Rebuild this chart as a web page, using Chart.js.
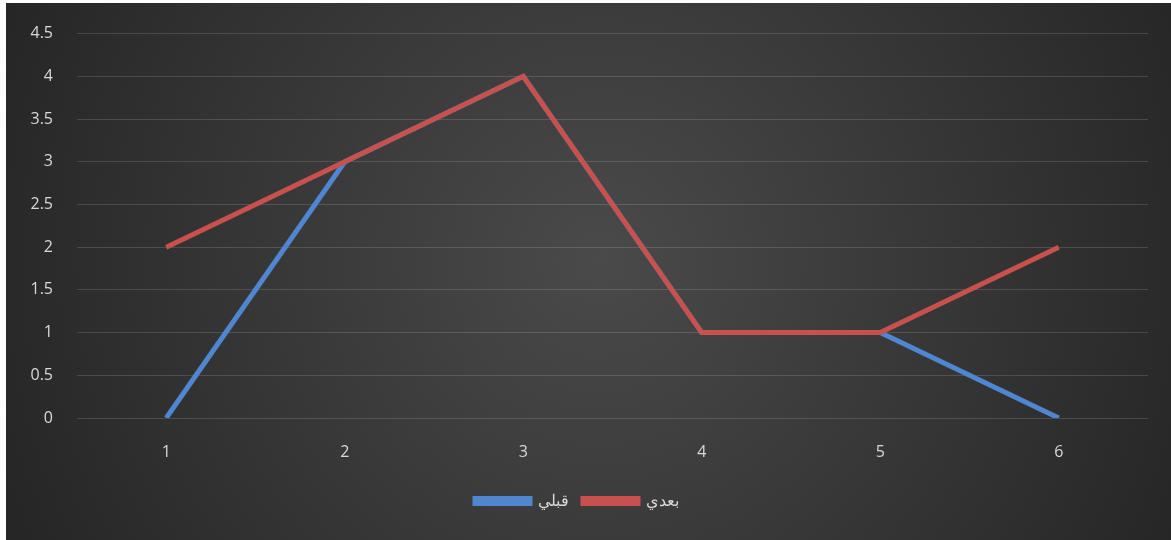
<!DOCTYPE html>
<html>
<head>
<meta charset="utf-8">
<script src="https://cdn.jsdelivr.net/npm/chart.js@4.4.1/dist/chart.umd.min.js"></script>
<style>
html,body{margin:0;padding:0;background:#fff;}
#wrap{width:1171px;height:540px;position:relative;}
</style>
</head>
<body>
<div id="wrap"><canvas id="c" width="1171" height="540"></canvas></div>
<script>
const categories = ['1', '2', '3', '4', '5', '6'];
const seriesBeforeName = 'قبلي';
const seriesBefore = [0, 3, 4, 1, 1, 0];
const seriesAfterName = 'بعدي';
const seriesAfter = [2, 3, 4, 1, 1, 2];
const yMin = 0, yMax = 4.5, yStep = 0.5;

const bgPlugin = {
  id: 'bg',
  beforeDraw(chart) {
    const ctx = chart.ctx;
    ctx.save();
    ctx.fillStyle = '#ffffff';
    ctx.fillRect(0, 0, chart.width, chart.height);
    const x0 = 6, y0 = 3, w = chart.width - x0, h = chart.height - y0;
    const g = ctx.createRadialGradient(600, 260, 0, 600, 260, 640);
    g.addColorStop(0, '#4a4a4a');
    g.addColorStop(1, '#262626');
    ctx.fillStyle = g;
    ctx.fillRect(x0, y0, w, h);
    ctx.restore();
  }
};

Chart.defaults.font.family = '"Open Sans", "Noto Sans", sans-serif';

new Chart(document.getElementById('c'), {
  type: 'line',
  data: {
    labels: categories,
    datasets: [
      {
        label: seriesAfterName,
        data: seriesAfter,
        borderColor: '#c8504e',
        backgroundColor: '#c8504e',
        borderWidth: 5,
        pointRadius: 0,
        tension: 0,
        fill: false
      },
      {
        label: seriesBeforeName,
        data: seriesBefore,
        borderColor: '#4f86cf',
        backgroundColor: '#4f86cf',
        borderWidth: 5,
        pointRadius: 0,
        tension: 0,
        fill: false
      }
    ]
  },
  options: {
    responsive: false,
    animation: false,
    layout: { padding: { left: 6, top: 32, right: 23, bottom: 21 } },
    plugins: {
      tooltip: { enabled: false },
      legend: {
        position: 'bottom',
        reverse: true,
        labels: {
          color: '#d9d9d9',
          font: { size: 16 },
          boxWidth: 55,
          boxHeight: 5,
          padding: 14
        }
      }
    },
    scales: {
      x: {
        offset: true,
        grid: { display: false, drawTicks: false },
        border: { display: false },
        ticks: { color: '#d9d9d9', font: { size: 16 }, padding: 25 },
        afterFit(s) { s.height = 61; }
      },
      y: {
        min: yMin,
        max: yMax,
        ticks: {
          stepSize: yStep,
          color: '#d9d9d9',
          font: { size: 16 },
          padding: 24,
          callback: (v) => String(Math.round(v * 10) / 10)
        },
        grid: { color: 'rgba(255,255,255,0.14)', drawTicks: false, lineWidth: 1 },
        border: { display: false },
        afterFit(s) { s.width = 71; }
      }
    }
  },
  plugins: [bgPlugin]
});
</script>
</body>
</html>
